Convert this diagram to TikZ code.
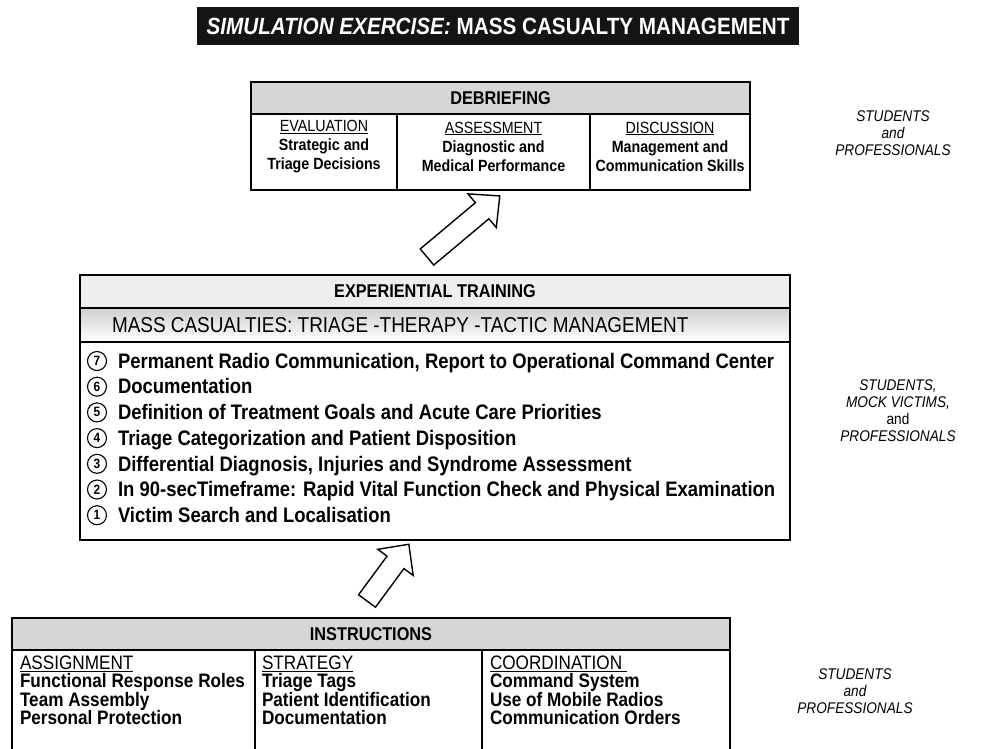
\documentclass[tikz,border=0pt]{standalone}
\usepackage{fontspec}
\setmainfont[FakeStretch=0.88]{Liberation Sans}
\definecolor{hdrgray}{HTML}{D6D6D6}
\definecolor{hdrlight}{HTML}{EEEEEE}
\definecolor{bandgray}{HTML}{CFCFCF}
\begin{document}
\begin{tikzpicture}[x=1pt,y=-1pt,
  every node/.style={inner sep=0pt, outer sep=0pt},
  frame/.style={draw=black, line width=1.8pt},
  divider/.style={draw=black, line width=1.4pt},
  headbox/.style={draw=black, line width=1.8pt, fill=hdrgray, anchor=north west,
                  font=\fontsize{18.5}{21}\bfseries\selectfont},
  bodybox/.style={draw=black, line width=1.8pt, anchor=north west},
  coltext/.style={align=center, font=\fontsize{16.2}{19}\selectfont},
  lefttext/.style={align=left, anchor=north west, font=\fontsize{19.5}{18.5}\selectfont},
  listtext/.style={anchor=west, text height=14.5pt, text depth=0pt, font=\fontsize{21}{22}\bfseries\selectfont},
  numcirc/.style={circle, draw=black, line width=1.1pt, minimum size=19pt, font=\fontsize{13.5}{13.5}\bfseries\selectfont},
  sidelabel/.style={align=center, font=\fontsize{15.5}{17}\itshape\selectfont},
  blockarrow/.style={draw=black, line width=1.4pt, fill=white, line join=miter}
]
\path[use as bounding box] (0,0) rectangle (997,748);
\clip (0,0) rectangle (997,748);

% title
\node[fill=black!92, minimum width=602pt, minimum height=38pt, text=white,
      font=\fontsize{23.5}{25}\bfseries\selectfont] (title) at (498,26)
      {\textit{SIMULATION EXERCISE:} MASS CASUALTY MANAGEMENT};

% debriefing
\node[bodybox, minimum width=499pt, minimum height=76pt] (dbody) at (251,114) {};
\node[headbox, minimum width=499pt, minimum height=32pt] (dhead) at (251,82) {DEBRIEFING};
\draw[divider] (397,114) -- (397,190);
\draw[divider] (590,114) -- (590,190);
\node[coltext] (eval) at (324,146.5) {\underline{EVALUATION}\\\textbf{Strategic and}\\\textbf{Triage Decisions}};
\node[coltext] (assess) at (493.5,146.5) {\underline{ASSESSMENT}\\\textbf{Diagnostic and}\\\textbf{Medical Performance}};
\node[coltext] (disc) at (670,146.5) {\underline{DISCUSSION}\\\textbf{Management and}\\\textbf{Communication Skills}};
\node[sidelabel] (lab1) at (893,133) {STUDENTS\\and\\PROFESSIONALS};

% arrow 1
\begin{scope}[shift={(427,257)}, rotate=40]
  \draw[blockarrow] (0,-10.5) -- (72,-10.5) -- (72,-22) -- (95,0) -- (72,22) -- (72,10.5) -- (0,10.5) -- cycle;
\end{scope}

% experiential training
\node[bodybox, minimum width=710pt, minimum height=198pt] (ebody) at (80,342) {};
\shade[top color=bandgray, bottom color=white] (80,308) rectangle (790,342);
\draw[frame] (80,308) rectangle (790,342);
\node[anchor=west, font=\fontsize{21.5}{23}\selectfont, text height=15pt, text depth=0pt] (esub) at (112,325)
      {MASS CASUALTIES: TRIAGE -THERAPY -TACTIC MANAGEMENT};
\node[headbox, fill=hdrlight, minimum width=710pt, minimum height=33pt] (ehead) at (80,275) {EXPERIENTIAL TRAINING};
\foreach \n/\t [count=\i from 0] in {
  7/{Permanent Radio Communication, Report to Operational Command Center},
  6/{Documentation},
  5/{Definition of Treatment Goals and Acute Care Priorities},
  4/{Triage Categorization and Patient Disposition},
  3/{Differential Diagnosis, Injuries and Syndrome Assessment},
  2/{In 90-secTimeframe: Rapid Vital Function Check and Physical Examination},
  1/{Victim Search and Localisation}} {
  \node[numcirc] (c\n) at (97,{361+\i*25.7}) {\n};
  \node[listtext] (t\n) at (118,{361+\i*25.7}) {\t};
}
\node[sidelabel] (lab2) at (898,411) {STUDENTS,\\MOCK VICTIMS,\\{\upshape and}\\PROFESSIONALS};

% arrow 2
\begin{scope}[shift={(367,601)}, rotate=53.6]
  \draw[blockarrow] (0,-10.5) -- (48,-10.5) -- (48,-22) -- (70.5,0) -- (48,22) -- (48,10.5) -- (0,10.5) -- cycle;
\end{scope}

% instructions
\node[bodybox, minimum width=718pt, minimum height=110pt] (ibody) at (12,650) {};
\node[headbox, minimum width=718pt, minimum height=32pt] (ihead) at (12,618) {INSTRUCTIONS};
\draw[divider] (255,650) -- (255,760);
\draw[divider] (482,650) -- (482,760);
\node[lefttext] (assign) at (20,655.5) {\underline{ASSIGNMENT}\\\textbf{Functional Response Roles}\\\textbf{Team Assembly}\\\textbf{Personal Protection}};
\node[lefttext] (strat) at (262,655.5) {\underline{STRATEGY}\\\textbf{Triage Tags}\\\textbf{Patient Identification}\\\textbf{Documentation}};
\node[lefttext] (coord) at (490,655.5) {\underline{COORDINATION\ }\\\textbf{Command System}\\\textbf{Use of Mobile Radios}\\\textbf{Communication Orders}};
\node[sidelabel] (lab3) at (855,691) {STUDENTS\\and\\PROFESSIONALS};
\end{tikzpicture}
\end{document}
